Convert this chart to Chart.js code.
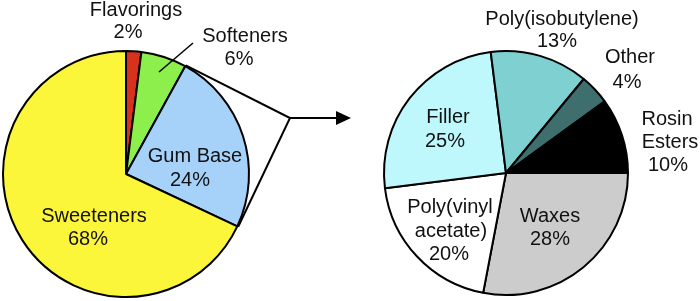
<!DOCTYPE html>
<html>
<head>
<meta charset="utf-8">
<script src="https://cdn.jsdelivr.net/npm/chart.js@4"></script>
<style>
  html, body { margin: 0; padding: 0; background: #fff; }
  #wrap { position: relative; width: 700px; height: 301px; overflow: hidden; }
  canvas { position: absolute; top: 0; }
  #chewing { left: 0; }
  #gumBase { left: 350px; }
</style>
</head>
<body>
<div id="wrap">
  <canvas id="chewing" width="360" height="301"></canvas>
  <canvas id="gumBase" width="350" height="301"></canvas>
</div>
<script>
// Chewing gum composition (%)
const gumLabels = ['Flavorings', 'Softeners', 'Gum Base', 'Sweeteners'];
const gumValues = [2, 6, 24, 68];

// Gum base composition (%)
const baseLabels = ['Waxes', 'Poly(vinyl acetate)', 'Filler', 'Poly(isobutylene)', 'Other', 'Rosin Esters'];
const baseValues = [28, 20, 25, 13, 4, 10];

const FONT = '20px "Liberation Sans", Arial, sans-serif';
const TEXT = '#111';

// label text lines per slice, the last line is the percentage; x/baseline per line
const gumText = [
  { lines: ['Flavorings'], pos: [[136, 16], [128, 38]] },
  { lines: ['Softeners'], pos: [[245, 42], [239, 65]] },
  { lines: ['Gum Base'], pos: [[195, 162], [190, 186]] },
  { lines: ['Sweeteners'], pos: [[94, 222], [88, 245]] }
];
const baseText = [
  { lines: ['Waxes'], pos: [[200, 222], [200, 245]] },
  { lines: ['Poly(vinyl', 'acetate)'], pos: [[100, 213], [101, 237], [99, 260]] },
  { lines: ['Filler'], pos: [[98, 123], [95, 147]] },
  { lines: ['Poly(isobutylene)'], pos: [[212, 25], [207, 47]] },
  { lines: ['Other'], pos: [[280, 63], [277, 88]] },
  { lines: ['Rosin', 'Esters'], pos: [[317, 125], [320, 148], [318, 171]] }
];

const labelsPlugin = texts => ({
  id: 'sliceLabels',
  afterDraw(chart) {
    const ctx = chart.ctx;
    const values = chart.data.datasets[0].data;
    ctx.save();
    ctx.font = FONT;
    ctx.fillStyle = TEXT;
    ctx.textAlign = 'center';
    ctx.textBaseline = 'alphabetic';
    texts.forEach((t, i) => {
      const lines = [...t.lines, values[i] + '%'];
      lines.forEach((s, j) => ctx.fillText(s, t.pos[j][0], t.pos[j][1]));
    });
    ctx.restore();
  }
});

// leader line for Softeners + the zoom wedge and arrow from Gum Base
const calloutPlugin = {
  id: 'callout',
  afterDraw(chart) {
    const ctx = chart.ctx;
    const arcs = chart.getDatasetMeta(0).data;
    const gb = arcs[2];
    const r = gb.outerRadius + 1;
    const p1 = [gb.x + r * Math.cos(gb.startAngle), gb.y + r * Math.sin(gb.startAngle)];
    const p2 = [gb.x + r * Math.cos(gb.endAngle), gb.y + r * Math.sin(gb.endAngle)];
    const apex = [290, 118];
    ctx.save();
    ctx.strokeStyle = '#000';
    ctx.lineWidth = 2;
    ctx.beginPath();
    ctx.moveTo(p1[0], p1[1]);
    ctx.lineTo(apex[0], apex[1]);
    ctx.lineTo(p2[0], p2[1]);
    ctx.stroke();
    // arrow
    ctx.beginPath();
    ctx.moveTo(apex[0], apex[1]);
    ctx.lineTo(337, apex[1]);
    ctx.stroke();
    ctx.fillStyle = '#000';
    ctx.beginPath();
    ctx.moveTo(336, apex[1] - 7);
    ctx.lineTo(351, apex[1]);
    ctx.lineTo(336, apex[1] + 7);
    ctx.closePath();
    ctx.fill();
    // softeners leader
    ctx.lineWidth = 1.5;
    ctx.beginPath();
    ctx.moveTo(193, 43);
    ctx.lineTo(159, 72);
    ctx.stroke();
    ctx.restore();
  }
};

const pieOptions = (padding, rotation) => ({
  responsive: false,
  animation: false,
  rotation,
  layout: { padding },
  plugins: { legend: { display: false }, tooltip: { enabled: false } }
});

new Chart(document.getElementById('chewing'), {
  type: 'pie',
  data: {
    labels: gumLabels,
    datasets: [{
      data: gumValues,
      backgroundColor: ['#d8321c', '#8def4c', '#a6d2fa', '#fcf63a'],
      borderColor: '#000',
      borderWidth: 2
    }]
  },
  options: pieOptions({ left: 2, right: 110, top: 49, bottom: 2 }, 0),
  plugins: [labelsPlugin(gumText), calloutPlugin]
});

new Chart(document.getElementById('gumBase'), {
  type: 'pie',
  data: {
    labels: baseLabels,
    datasets: [{
      data: baseValues,
      backgroundColor: ['#cccccc', '#ffffff', '#bff8fc', '#7fd0d0', '#3f6e6e', '#000000'],
      borderColor: '#000',
      borderWidth: 2
    }]
  },
  options: pieOptions({ left: 33, right: 71, top: 50, bottom: 5 }, 90),
  plugins: [labelsPlugin(baseText)]
});
</script>
</body>
</html>
